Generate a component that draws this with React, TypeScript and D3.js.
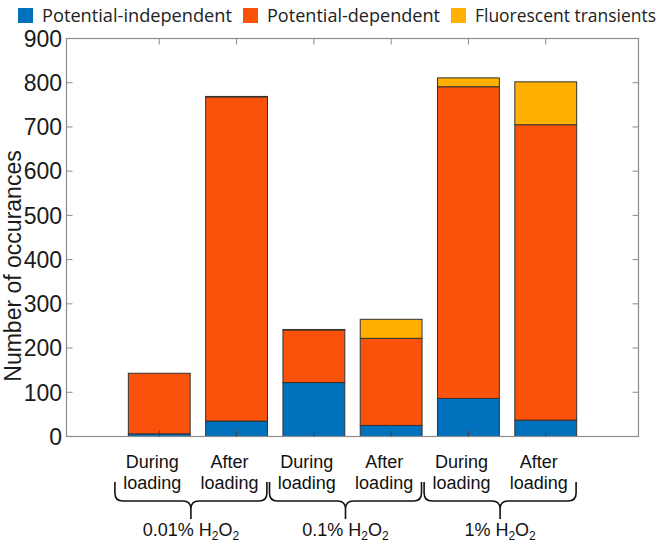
import React from 'react';
import * as d3 from 'd3';

const categories = ['During loading', 'After loading', 'During loading', 'After loading', 'During loading', 'After loading'];
const groupLabels = ['0.01%', '0.1%', '1%'];
const seriesNames = ['Potential-independent', 'Potential-dependent', 'Fluorescent transients'];
const independent = [6, 35, 122, 25, 86, 37];
const dependent = [137, 733, 119, 197, 705, 668];
const transients = [0, 1, 1, 43, 20, 97];
const yTickValues = [0, 100, 200, 300, 400, 500, 600, 700, 800, 900];

const colors = ['#0072BD', '#FA520A', '#FFB000'];
const keys = ['independent', 'dependent', 'transients'];

export default function App() {
  const W = 666, H = 542;
  const x = d3.scaleLinear().domain([-0.2, 7.2]).range([66.5, 638.5]);
  const y = d3.scaleLinear().domain([0, 900]).range([436.5, 38.5]);
  const rows = categories.map((c, i) => ({
    idx: i + 1,
    independent: independent[i],
    dependent: dependent[i],
    transients: transients[i],
  }));
  const stacked = d3.stack<any>().keys(keys)(rows);
  const bw = x(0.8) - x(0);
  const axisColor = '#8c8c8c';
  const tickLen = 6;

  const bracePath = (xc: number, half: number) => {
    const x0 = xc - half, x1 = xc + half;
    const yTop = 482, yLine = 501, yCusp = 519;
    const r = 8;
    return `M${x0},${yTop} L${x0},${yLine - r} Q${x0},${yLine} ${x0 + r},${yLine} L${xc - r},${yLine} Q${xc},${yLine} ${xc},${yLine + r} L${xc},${yCusp} M${xc},${yLine + r} Q${xc},${yLine} ${xc + r},${yLine} L${x1 - r},${yLine} Q${x1},${yLine} ${x1},${yLine - r} L${x1},${yTop}`;
  };

  return (
    <svg width={W} height={H} style={{ position: 'absolute', left: 0, top: 0, background: '#fff' }}
      fontFamily="Liberation Sans, Arial, sans-serif">
      <rect width={W} height={H} fill="#fff" />
      {/* Legend */}
      <g fontFamily="Open Sans, sans-serif" fontSize={18} fill="#222">
        {seriesNames.map((n, i) => {
          const sx = [18, 243, 451][i];
          const tx = [42, 267, 475][i];
          const tw = [190, 173, 181][i];
          return (
            <g key={n}>
              <rect x={sx} y={8} width={15} height={15} fill={colors[i]} />
              <text x={tx} y={22} textLength={tw} lengthAdjust="spacingAndGlyphs">{n}</text>
            </g>
          );
        })}
      </g>
      {/* Bars */}
      {stacked.map((s, si) => (
        <g key={s.key}>
          {s.map((d, i) => (
            d[1] - d[0] > 0 ? (
              <rect key={i} x={x(rows[i].idx) - bw / 2} y={y(d[1])} width={bw}
                height={y(d[0]) - y(d[1])} fill={colors[si]} stroke="#333" strokeWidth={1} />
            ) : null
          ))}
        </g>
      ))}
      {/* Axes box */}
      <rect x={x(-0.2)} y={y(900)} width={x(7.2) - x(-0.2)} height={y(0) - y(900)} fill="none" stroke={axisColor} strokeWidth={1.2} />
      {yTickValues.map(v => (
        <g key={v}>
          <line x1={x(-0.2)} x2={x(-0.2) + tickLen} y1={y(v)} y2={y(v)} stroke={axisColor} />
          <line x1={x(7.2)} x2={x(7.2) - tickLen} y1={y(v)} y2={y(v)} stroke={axisColor} />
          <text x={62} y={y(v)} dy="0.36em" textAnchor="end" fontSize={23} fill="#1a1a1a">{v}</text>
        </g>
      ))}
      {rows.map(r => (
        <g key={r.idx}>
          <line x1={x(r.idx)} x2={x(r.idx)} y1={y(0)} y2={y(0) - tickLen} stroke="#444" />
          <line x1={x(r.idx)} x2={x(r.idx)} y1={y(900)} y2={y(900) + tickLen} stroke={axisColor} />
        </g>
      ))}
      <text transform={`translate(21,266) rotate(-90)`} textAnchor="middle" fontSize={23} fill="#1a1a1a">Number of occurances</text>
      {/* Category labels */}
      {categories.map((c, i) => {
        const [a, b] = c.split(' ');
        const cx = x(i + 1) - 7;
        return (
          <g key={i} fontSize={18} fill="#111" textAnchor="middle">
            <text x={cx} y={468}>{a}</text>
            <text x={cx} y={489}>{b}</text>
          </g>
        );
      })}
      {/* Braces and group labels */}
      {groupLabels.map((g, gi) => {
        const xc = (x(gi * 2 + 1) + x(gi * 2 + 2)) / 2 - 7;
        return (
          <g key={g}>
            <path d={bracePath(xc, 76)} fill="none" stroke="#111" strokeWidth={1.6} />
            <text x={xc} y={536} textAnchor="middle" fontSize={18} fill="#111">
              {g} H<tspan dy={4} fontSize={12}>2</tspan><tspan dy={-4}>O</tspan><tspan dy={4} fontSize={12}>2</tspan>
            </text>
          </g>
        );
      })}
    </svg>
  );
}
